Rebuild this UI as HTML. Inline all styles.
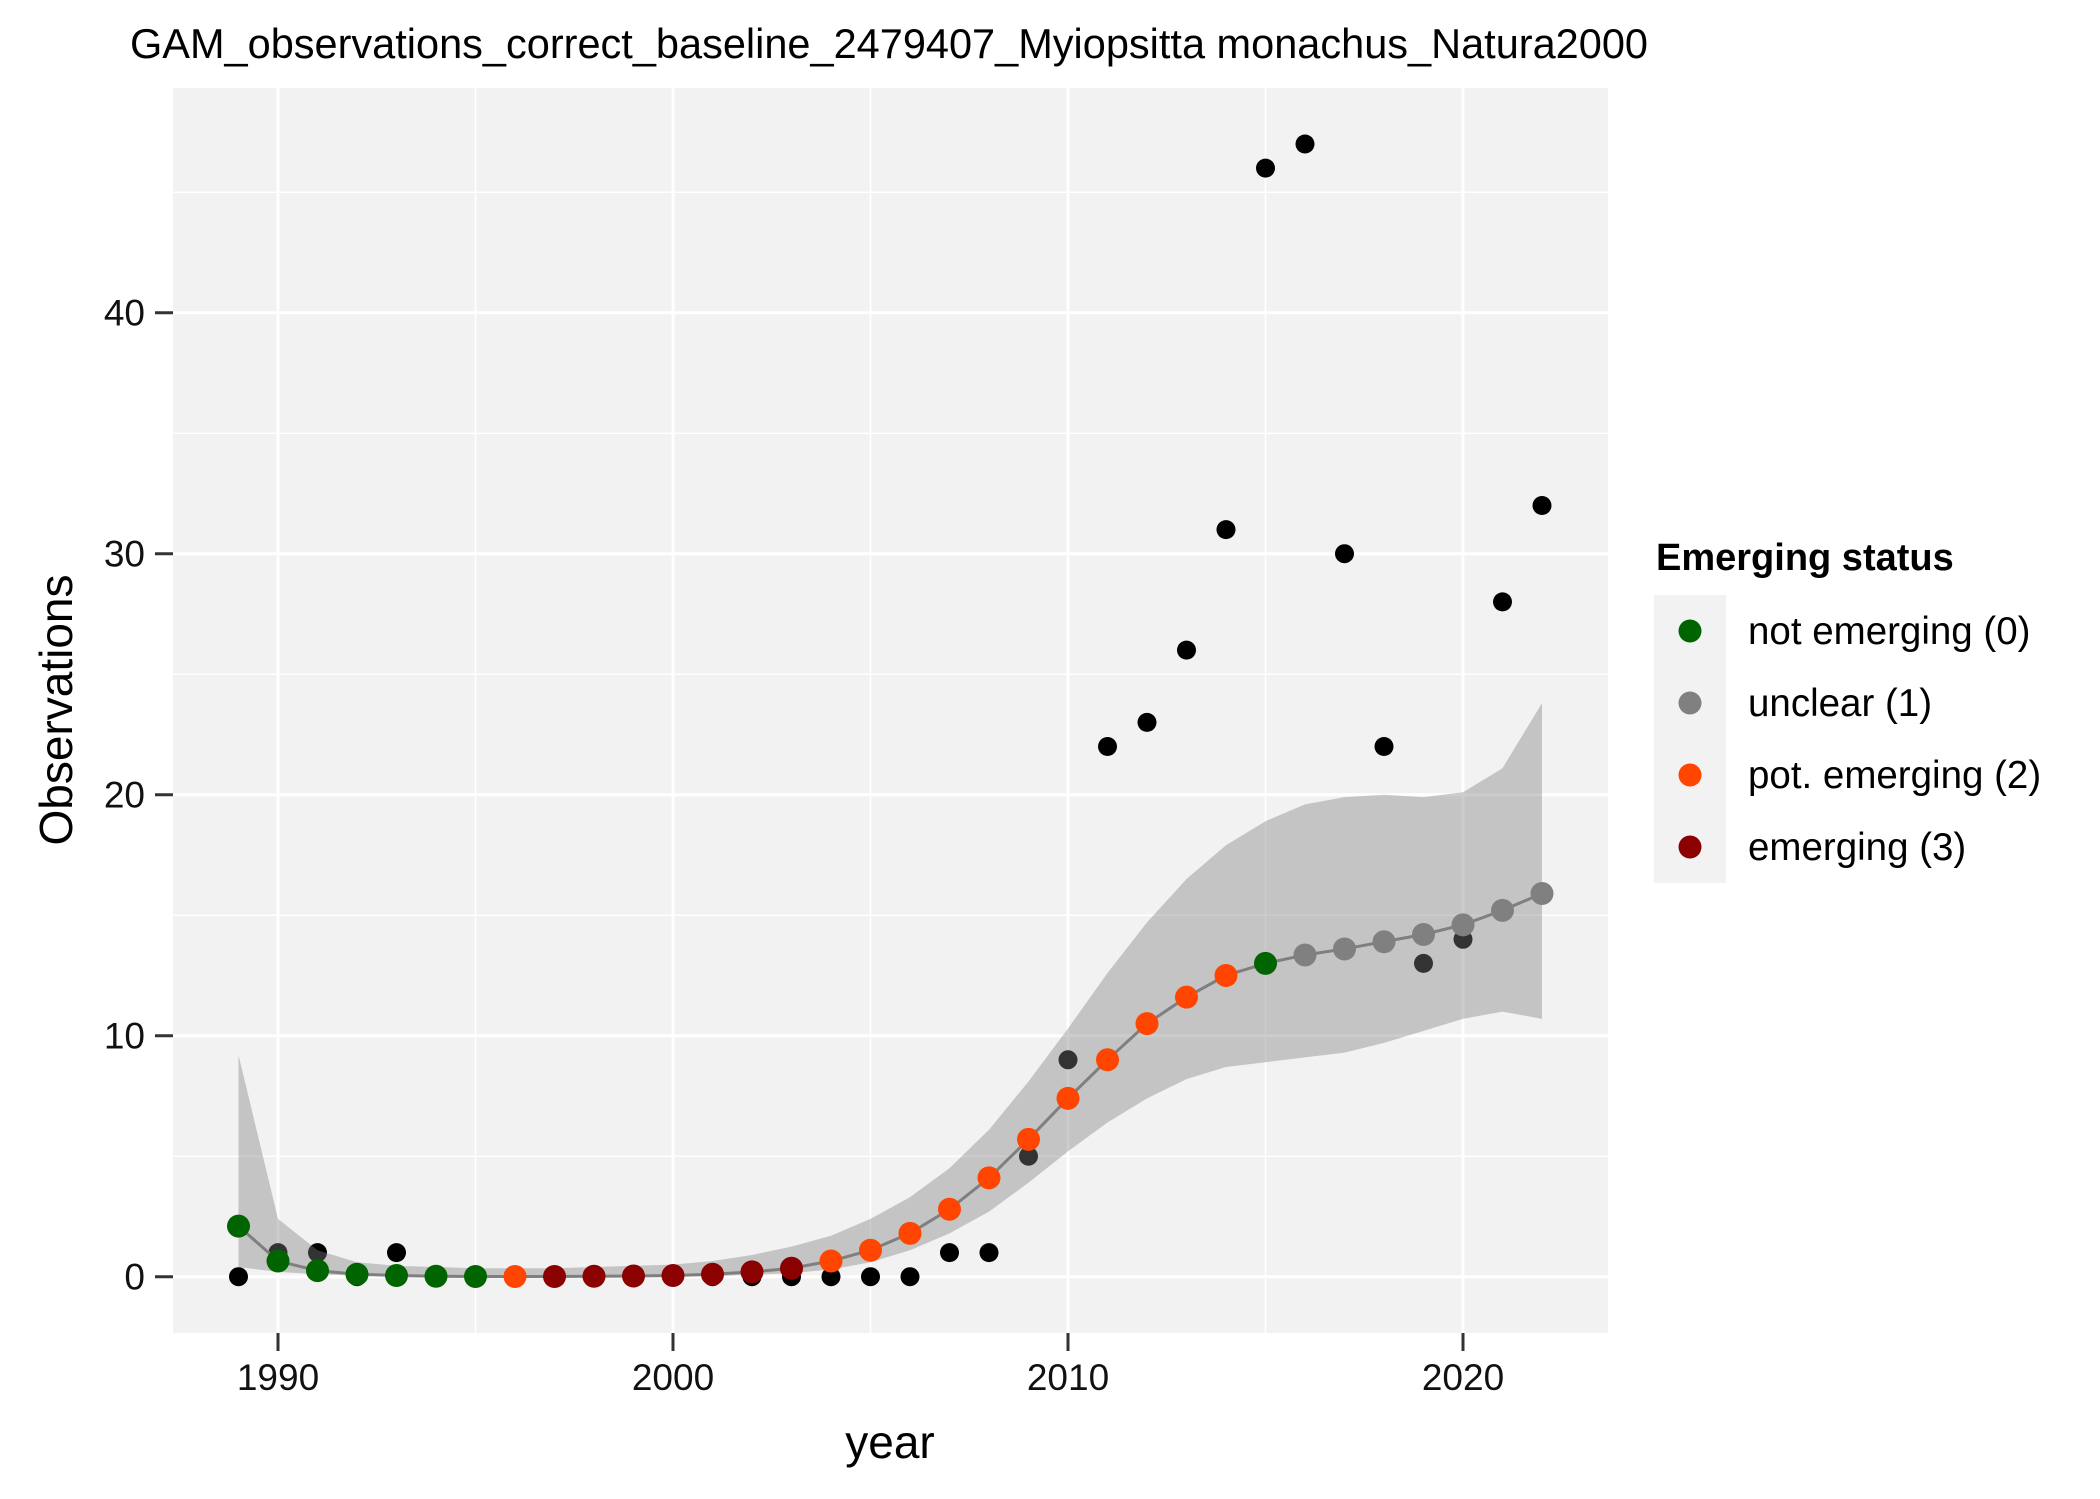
<!DOCTYPE html>
<html><head><meta charset="utf-8"><style>
html,body{margin:0;padding:0;background:#fff;}
svg{display:block;font-family:"Liberation Sans",Arial,sans-serif;}
</style></head><body>
<svg id="chart" width="2100" height="1499" viewBox="0 0 2100 1499" xmlns="http://www.w3.org/2000/svg">
<text x="130" y="58" font-size="41.5" fill="#000">GAM_observations_correct_baseline_2479407_Myiopsitta monachus_Natura2000</text>
<rect x="173" y="88" width="1435" height="1245" fill="#f2f2f2"/>
<g id="grid"></g>
<g id="obs"></g>
<g id="ribbon"></g>
<g id="fit"></g>
<g id="axes"></g>
<text transform="translate(72,710) rotate(-90)" text-anchor="middle" font-size="46">Observations</text>
<text x="890" y="1458" text-anchor="middle" font-size="46">year</text>
<g>
<text x="1656" y="570" font-size="38" font-weight="bold">Emerging status</text>
<rect x="1654" y="595" width="72" height="288" fill="#f2f2f2"/>
<g><circle cx="1690" cy="631" r="11.5" fill="#006400"/><text x="1748" y="644" font-size="38.5">not emerging (0)</text></g>
<g><circle cx="1690" cy="703" r="11.5" fill="#808080"/><text x="1748" y="716" font-size="38.5">unclear (1)</text></g>
<g><circle cx="1690" cy="775" r="11.5" fill="#ff4500"/><text x="1748" y="788" font-size="38.5">pot. emerging (2)</text></g>
<g><circle cx="1690" cy="847" r="11.5" fill="#8b0000"/><text x="1748" y="860" font-size="38.5">emerging (3)</text></g>
</g>
</svg>
<script>
const years = [1989,1990,1991,1992,1993,1994,1995,1996,1997,1998,1999,2000,2001,2002,2003,2004,2005,2006,2007,2008,2009,2010,2011,2012,2013,2014,2015,2016,2017,2018,2019,2020,2021,2022];
const observed = [0,1,1,0,1,0,0,0,0,0,0,0,0,0,0,0,0,0,1,1,5,9,22,23,26,31,46,47,30,22,13,14,28,32];
const fitted = [2.1,0.65,0.25,0.1,0.05,0.02,0.01,0.01,0.01,0.02,0.03,0.05,0.1,0.2,0.35,0.65,1.1,1.8,2.8,4.1,5.7,7.4,9.0,10.5,11.6,12.5,13.0,13.35,13.6,13.9,14.2,14.6,15.2,15.9];
const lower = [0.4,0.2,0.1,0.05,0.02,0,0,0,0,0,0,0,0.02,0.08,0.15,0.3,0.6,1.1,1.8,2.7,3.9,5.2,6.4,7.4,8.2,8.7,8.9,9.1,9.3,9.7,10.2,10.7,11.0,10.7];
const upper = [9.2,2.4,1.1,0.6,0.45,0.4,0.35,0.35,0.35,0.4,0.45,0.5,0.65,0.9,1.25,1.7,2.4,3.3,4.5,6.1,8.1,10.3,12.6,14.7,16.5,17.9,18.9,19.6,19.9,20.0,19.9,20.1,21.1,23.8];
const status = [0,0,0,0,0,0,0,2,3,3,3,3,3,3,3,2,2,2,2,2,2,2,2,2,2,2,0,1,1,1,1,1,1,1];
const xTicks = [1990,2000,2010,2020];
const xMinor = [1995,2005,2015];
const yTicks = [0,10,20,30,40];
const yMinor = [5,15,25,35,45];
const statusColors = ['#006400','#808080','#ff4500','#8b0000'];

const NS='http://www.w3.org/2000/svg';
const PL=173, PR=1608, PT=88, PB=1333;
function xs(v){return 278+(v-1990)*39.5;}
function ys(v){return 1276.7-v*24.1;}
function mk(tag,attrs,parent){const e=document.createElementNS(NS,tag);for(const k in attrs)e.setAttribute(k,attrs[k]);parent.appendChild(e);return e;}

const grid=document.getElementById('grid');
yMinor.forEach(v=>{const l=mk('line',{x1:PL,x2:PR,y1:ys(v),y2:ys(v),stroke:'#fff','stroke-width':1.5},grid);

});
xMinor.forEach(v=>{const l=mk('line',{x1:xs(v),x2:xs(v),y1:PT,y2:PB,stroke:'#fff','stroke-width':1.5},grid);

});
yTicks.forEach(v=>{const l=mk('line',{x1:PL,x2:PR,y1:ys(v),y2:ys(v),stroke:'#fff','stroke-width':3},grid);

});
xTicks.forEach(v=>{const l=mk('line',{x1:xs(v),x2:xs(v),y1:PT,y2:PB,stroke:'#fff','stroke-width':3},grid);

});

const obs=document.getElementById('obs');
years.forEach((y,i)=>{const c=mk('circle',{cx:xs(y),cy:ys(observed[i]),r:9.5,fill:'#000'},obs);

});

const rib=document.getElementById('ribbon');
let d='';
years.forEach((y,i)=>{d+=(i?'L':'M')+xs(y)+','+ys(upper[i]);});
for(let i=years.length-1;i>=0;i--){d+='L'+xs(years[i])+','+ys(lower[i]);}
const rp=mk('path',{d:d+'Z',fill:'#808080','fill-opacity':0.4},rib);



const fit=document.getElementById('fit');
const ln=mk('polyline',{points:years.map((y,i)=>xs(y)+','+ys(fitted[i])).join(' '),fill:'none',stroke:'#7f7f7f','stroke-width':3},fit);


years.forEach((y,i)=>{const c=mk('circle',{cx:xs(y),cy:ys(fitted[i]),r:11.5,fill:statusColors[status[i]]},fit);

});

const ax=document.getElementById('axes');
yTicks.forEach(v=>{
const t=mk('line',{x1:155,x2:PL,y1:ys(v),y2:ys(v),stroke:'#333','stroke-width':3},ax);


const tx=mk('text',{x:145,y:ys(v)+13,'text-anchor':'end','font-size':37,fill:'#111'},ax);
tx.textContent=v;

});
xTicks.forEach(v=>{
const t=mk('line',{x1:xs(v),x2:xs(v),y1:PB,y2:PB+18,stroke:'#333','stroke-width':3},ax);


const tx=mk('text',{x:xs(v),y:1390,'text-anchor':'middle','font-size':37,fill:'#111'},ax);
tx.textContent=v;

});
</script>
</body></html>
